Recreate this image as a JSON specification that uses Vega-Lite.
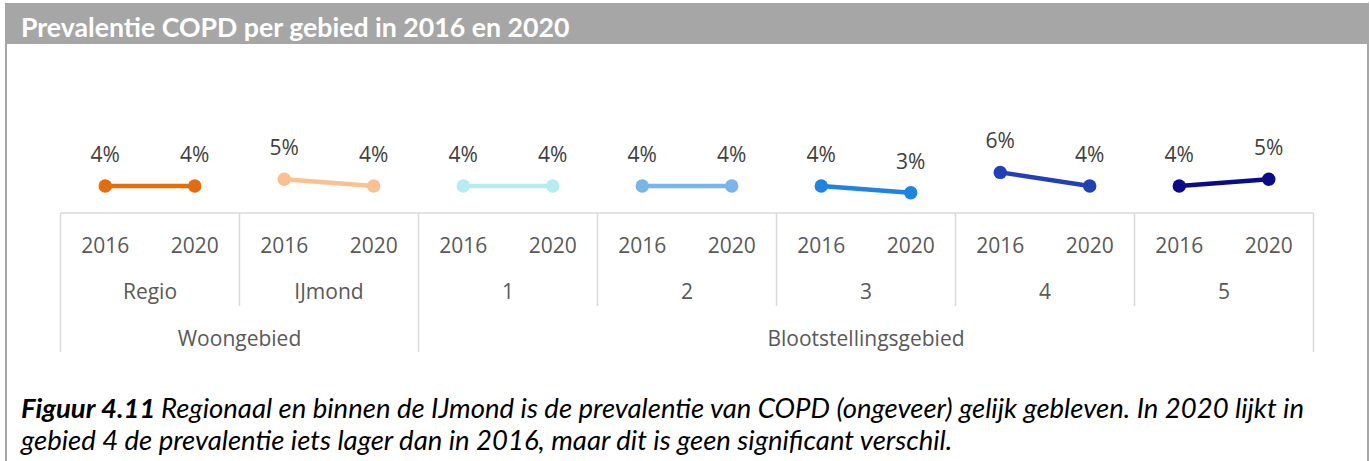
{
  "$schema": "https://vega.github.io/schema/vega-lite/v6.json",
  "width": 1370,
  "height": 461,
  "padding": 0,
  "autosize": {"type": "none"},
  "background": "white",
  "config": {"view": {"stroke": null}},
  "datasets": {
    "main": [
      {"gebied": "Regio", "jaar": "2016", "slot": "Regio 2016", "v": 0.04},
      {"gebied": "Regio", "jaar": "2020", "slot": "Regio 2020", "v": 0.04},
      {"gebied": "IJmond", "jaar": "2016", "slot": "IJmond 2016", "v": 0.05},
      {"gebied": "IJmond", "jaar": "2020", "slot": "IJmond 2020", "v": 0.04},
      {"gebied": "1", "jaar": "2016", "slot": "1 2016", "v": 0.04},
      {"gebied": "1", "jaar": "2020", "slot": "1 2020", "v": 0.04},
      {"gebied": "2", "jaar": "2016", "slot": "2 2016", "v": 0.04},
      {"gebied": "2", "jaar": "2020", "slot": "2 2020", "v": 0.04},
      {"gebied": "3", "jaar": "2016", "slot": "3 2016", "v": 0.04},
      {"gebied": "3", "jaar": "2020", "slot": "3 2020", "v": 0.03},
      {"gebied": "4", "jaar": "2016", "slot": "4 2016", "v": 0.06},
      {"gebied": "4", "jaar": "2020", "slot": "4 2020", "v": 0.04},
      {"gebied": "5", "jaar": "2016", "slot": "5 2016", "v": 0.04},
      {"gebied": "5", "jaar": "2020", "slot": "5 2020", "v": 0.05}
    ],
    "groups": [
      {"slot": "Regio 2016", "label": "Regio"},
      {"slot": "IJmond 2016", "label": "IJmond"},
      {"slot": "1 2016", "label": "1"},
      {"slot": "2 2016", "label": "2"},
      {"slot": "3 2016", "label": "3"},
      {"slot": "4 2016", "label": "4"},
      {"slot": "5 2016", "label": "5"}
    ],
    "supers": [
      {"slot": "IJmond 2016", "label": "Woongebied"},
      {"slot": "3 2020", "label": "Blootstellingsgebied"}
    ],
    "shortSeps": [
      {"slot": "IJmond 2016"}, {"slot": "2 2016"}, {"slot": "3 2016"}, {"slot": "4 2016"}, {"slot": "5 2016"}
    ],
    "longSeps": [
      {"slot": "Regio 2016"}, {"slot": "1 2016"}
    ],
    "endSeps": [
      {"slot": "5 2020"}
    ],
    "one": [{"titel": "Prevalentie COPD per gebied in 2016 en 2020"}],
    "caption": [
      {"a": "Figuur 4.11", "b": "Regionaal en binnen de IJmond is de prevalentie van COPD (ongeveer) gelijk gebleven. In 2020 lijkt in", "c": "gebied 4 de prevalentie iets lager dan in 2016, maar dit is geen significant verschil."}
    ]
  },
  "layer": [
    {
      "data": {"name": "one"},
      "mark": {"type": "rect", "fill": "#a6a6a6"},
      "encoding": {"x": {"value": 5}, "x2": {"value": 1369}, "y": {"value": 3}, "y2": {"value": 44}}
    },
    {
      "data": {"name": "one"},
      "mark": {"type": "text", "align": "left", "baseline": "alphabetic", "font": "Lato", "fontWeight": "bold", "fontSize": 26.7, "color": "white"},
      "encoding": {"x": {"value": 21}, "y": {"value": 37}, "text": {"field": "titel"}}
    },
    {
      "data": {"name": "one"},
      "mark": {"type": "rule", "color": "#a6a6a6", "strokeWidth": 2},
      "encoding": {"x": {"value": 6}, "y": {"value": 44}, "y2": {"value": 461}}
    },
    {
      "data": {"name": "one"},
      "mark": {"type": "rule", "color": "#a6a6a6", "strokeWidth": 2},
      "encoding": {"x": {"value": 1368}, "y": {"value": 44}, "y2": {"value": 461}}
    },
    {
      "data": {"name": "one"},
      "mark": {"type": "rule", "color": "#d9d9d9", "strokeWidth": 1.5},
      "encoding": {"x": {"value": 60.5}, "x2": {"value": 1313.5}, "y": {"value": 213}}
    },
    {
      "data": {"name": "shortSeps"},
      "mark": {"type": "rule", "color": "#d9d9d9", "strokeWidth": 1.5},
      "encoding": {
        "x": {"field": "slot", "type": "nominal", "bandPosition": 0, "scale": {"type": "band", "domain": ["Regio 2016","Regio 2020","IJmond 2016","IJmond 2020","1 2016","1 2020","2 2016","2 2020","3 2016","3 2020","4 2016","4 2020","5 2016","5 2020"], "range": [60.5, 1313.5], "paddingInner": 0, "paddingOuter": 0}, "axis": null},
        "y": {"value": 213}, "y2": {"value": 306}
      }
    },
    {
      "data": {"name": "longSeps"},
      "mark": {"type": "rule", "color": "#d9d9d9", "strokeWidth": 1.5},
      "encoding": {
        "x": {"field": "slot", "type": "nominal", "bandPosition": 0, "axis": null},
        "y": {"value": 213}, "y2": {"value": 352}
      }
    },
    {
      "data": {"name": "endSeps"},
      "mark": {"type": "rule", "color": "#d9d9d9", "strokeWidth": 1.5},
      "encoding": {
        "x": {"field": "slot", "type": "nominal", "bandPosition": 1, "axis": null},
        "y": {"value": 213}, "y2": {"value": 352}
      }
    },
    {
      "data": {"name": "main"},
      "mark": {"type": "line", "strokeWidth": 4.5},
      "encoding": {
        "x": {"field": "slot", "type": "nominal", "bandPosition": 0.5, "axis": null},
        "y": {"field": "v", "type": "quantitative", "scale": {"domain": [0, 0.1], "range": [213.2, 145.2], "nice": false, "zero": false}, "axis": null},
        "detail": {"field": "gebied"},
        "color": {"field": "gebied", "type": "nominal", "scale": {"domain": ["Regio","IJmond","1","2","3","4","5"], "range": ["#E46C0A","#FAC08F","#B5ECEF","#78B5E9","#1E84E2","#2040B8","#0A0A8A"]}, "legend": null}
      }
    },
    {
      "data": {"name": "main"},
      "mark": {"type": "point", "filled": true, "opacity": 1, "size": 180},
      "encoding": {
        "x": {"field": "slot", "type": "nominal", "bandPosition": 0.5, "axis": null},
        "y": {"field": "v", "type": "quantitative", "axis": null},
        "color": {"field": "gebied", "type": "nominal", "legend": null}
      }
    },
    {
      "data": {"name": "main"},
      "mark": {"type": "text", "baseline": "alphabetic", "align": "center", "dy": -24, "font": "Open Sans", "fontSize": 21, "color": "#404040"},
      "encoding": {
        "x": {"field": "slot", "type": "nominal", "bandPosition": 0.5, "axis": null},
        "y": {"field": "v", "type": "quantitative", "axis": null},
        "text": {"field": "v", "type": "quantitative", "format": ".0%"}
      }
    },
    {
      "data": {"name": "main"},
      "mark": {"type": "text", "baseline": "alphabetic", "align": "center", "font": "Open Sans", "fontSize": 21, "color": "#595959"},
      "encoding": {
        "x": {"field": "slot", "type": "nominal", "bandPosition": 0.5, "axis": null},
        "y": {"value": 252.5},
        "text": {"field": "jaar"}
      }
    },
    {
      "data": {"name": "groups"},
      "mark": {"type": "text", "baseline": "alphabetic", "align": "center", "font": "Open Sans", "fontSize": 21, "color": "#595959"},
      "encoding": {
        "x": {"field": "slot", "type": "nominal", "bandPosition": 1, "axis": null},
        "y": {"value": 298.5},
        "text": {"field": "label"}
      }
    },
    {
      "data": {"name": "supers"},
      "mark": {"type": "text", "baseline": "alphabetic", "align": "center", "font": "Open Sans", "fontSize": 21, "color": "#595959"},
      "encoding": {
        "x": {"field": "slot", "type": "nominal", "bandPosition": 0, "axis": null},
        "y": {"value": 346},
        "text": {"field": "label"}
      }
    },
    {
      "data": {"name": "caption"},
      "mark": {"type": "text", "baseline": "alphabetic", "align": "left", "font": "Lato", "fontStyle": "italic", "fontWeight": "bold", "fontSize": 27.5, "color": "black"},
      "encoding": {"x": {"value": 21}, "y": {"value": 418}, "text": {"field": "a"}}
    },
    {
      "data": {"name": "caption"},
      "mark": {"type": "text", "baseline": "alphabetic", "align": "left", "font": "Lato", "fontStyle": "italic", "fontSize": 27.5, "color": "black"},
      "encoding": {"x": {"value": 161}, "y": {"value": 418}, "text": {"field": "b"}}
    },
    {
      "data": {"name": "caption"},
      "mark": {"type": "text", "baseline": "alphabetic", "align": "left", "font": "Lato", "fontStyle": "italic", "fontSize": 27.5, "color": "black"},
      "encoding": {"x": {"value": 21}, "y": {"value": 449.5}, "text": {"field": "c"}}
    }
  ]
}
